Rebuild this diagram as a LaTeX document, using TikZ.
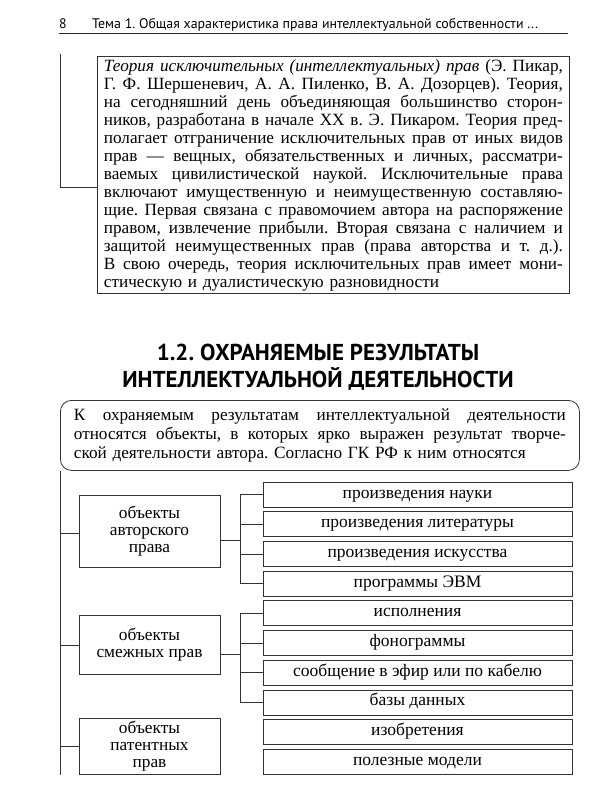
\documentclass[tikz,border=0pt]{standalone}
\usepackage{fontspec}
\setmainfont{Liberation Serif}
\newfontfamily\hsans{PT Sans}
\newcommand\jl[1]{\hbox to\hsize{\spaceskip=0.25em plus 1em minus 0.06em\relax #1}}
\frenchspacing
\begin{document}
\begin{tikzpicture}[x=1pt,y=-1pt,
  ln/.style={draw=black!80, line width=0.8pt},
  bx/.style={ln, rectangle, inner sep=0pt},
  item/.style={bx, minimum width=309pt, minimum height=25pt, text height=9.5pt, text depth=2.5pt, font=\fontsize{17.5}{18}\selectfont},
  cat/.style={bx, minimum width=141pt, align=center, font=\fontsize{17.3}{17}\selectfont}]
\useasboundingbox (0,0) rectangle (600,800);
\fill[white] (0,0) rectangle (600,800);
% header
\node[anchor=base west, inner sep=0pt, font=\hsans\fontsize{13.8}{15}\selectfont] (pg) at (59,29) {8};
\node[anchor=base west, inner sep=0pt, font=\hsans\fontsize{13.9}{15}\selectfont] (hd) at (92,29) {Тема 1. Общая характеристика права интеллектуальной собственности ...};
\coordinate (r1) at (59,33); \coordinate (r2) at (568,33);
\draw[draw=black!85, line width=0.9pt] (r1) -- (r2);
% theory box
\node[bx, anchor=north west, text width=459pt, inner xsep=6.5pt, inner ysep=0pt, minimum height=237pt, font=\fontsize{17.2}{18}\selectfont] (theory) at (97,56) {%
\jl{\textit{Теория исключительных (интеллектуальных) прав} (Э. Пикар,}
\jl{Г. Ф. Шершеневич, А. А. Пиленко, В. А. Дозорцев). Теория,}
\jl{на сегодняшний день объединяющая большинство сторон-}
\jl{ников, разработана в начале XX в. Э. Пикаром. Теория пред-}
\jl{полагает отграничение исключительных прав от иных видов}
\jl{прав — вещных, обязательственных и личных, рассматри-}
\jl{ваемых цивилистической наукой. Исключительные права}
\jl{включают имущественную и неимущественную составляю-}
\jl{щие. Первая связана с правомочием автора на распоряжение}
\jl{правом, извлечение прибыли. Вторая связана с наличием и}
\jl{защитой неимущественных прав (права авторства и т. д.).}
\jl{В свою очередь, теория исключительных прав имеет мони-}
\hbox{стическую и дуалистическую разновидности}};
\coordinate (a1) at (60,54); \coordinate (a2) at (60,187);
\draw[ln] (a1) -- (a2) -- (a2 -| theory.west);
% heading
\node[align=center, inner sep=0pt, font=\hsans\bfseries\fontsize{23}{26.5}\selectfont] (head) at (318,367) {1.2. ОХРАНЯЕМЫЕ РЕЗУЛЬТАТЫ\\ИНТЕЛЛЕКТУАЛЬНОЙ ДЕЯТЕЛЬНОСТИ};
% intro rounded box
\node[bx, rounded corners=11pt, anchor=north west, text width=492pt, inner xsep=13.5pt, inner ysep=0pt, minimum height=70pt, font=\fontsize{17.2}{19}\selectfont] (intro) at (60,400) {%
\jl{К охраняемым результатам интеллектуальной деятельности}
\jl{относятся объекты, в которых ярко выражен результат творче-}
\hbox{ской деятельности автора. Согласно ГК РФ к ним относятся}};
\coordinate (spE) at (60,775);
\draw[ln] (intro.south west) -- (spE);
% items
\foreach \t [count=\k] in {произведения науки, произведения литературы, произведения искусства, программы ЭВМ, исполнения, фонограммы, сообщение в эфир или по кабелю, базы данных, изобретения, полезные модели}
  \node[item] (i\k) at (417.5, 464.8+29.7*\k) {\t};
% categories
\node[cat, minimum height=72pt] (c1) at (149.5,531) {объекты\\авторского\\права};
\node[cat, minimum height=59pt] (c2) at (149.5,644.5) {объекты\\смежных прав};
\node[cat, minimum height=56pt] (c3) at (149.5,746) {объекты\\патентных\\прав};
% spine branches
\coordinate (b1) at (60,533); \draw[ln] (b1) -- (b1 -| c1.west);
\coordinate (b2) at (60,645); \draw[ln] (b2) -- (b2 -| c2.west);
\coordinate (b3) at (60,746); \draw[ln] (b3) -- (b3 -| c3.west);
% group connectors
\coordinate (t1) at (240,540);
\draw[ln] (t1 -| c1.east) -- (t1);
\draw[ln] (t1 |- i1.west) -- (t1 |- i4.west);
\foreach \k in {1,...,4} \draw[ln] (t1 |- i\k.west) -- (i\k.west);
\coordinate (t2) at (240,654);
\draw[ln] (t2 -| c2.east) -- (t2);
\draw[ln] (t2 |- i5.west) -- (t2 |- i8.west);
\foreach \k in {5,...,8} \draw[ln] (t2 |- i\k.west) -- (i\k.west);
\end{tikzpicture}
\end{document}
